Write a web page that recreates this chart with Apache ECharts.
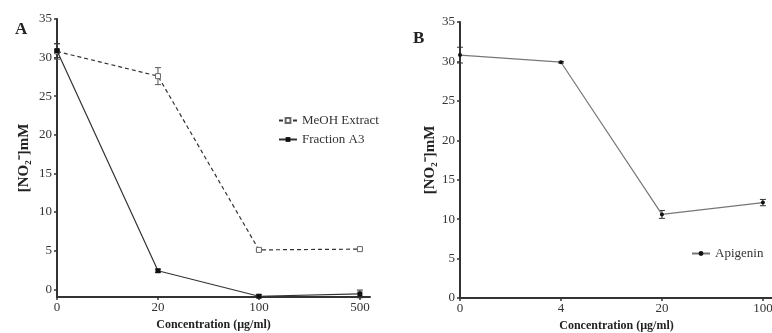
<!DOCTYPE html>
<html>
<head>
<meta charset="utf-8">
<script src="https://cdn.jsdelivr.net/npm/echarts@6/dist/echarts.min.js"></script>
<style>html,body{margin:0;padding:0;background:#fff}#c{width:772px;height:333px}</style>
</head>
<body>
<div id="c"></div>
<script>
const categoriesA = ['0', '20', '100', '500'];
const meohValues = [30.8, 27.6, 5.1, 5.2];
const meohErrors = [1.0, 1.1, 0.1, 0.1];
const a3Values = [30.9, 2.4, -0.9, -0.6];
const a3Errors = [0.9, 0.2, 0.2, 0.5];
const categoriesB = ['0', '4', '20', '100'];
const apigeninValues = [30.8, 29.9, 10.6, 12.1];
const apigeninErrors = [1.0, 0.1, 0.5, 0.4];
const yTicks = [0, 5, 10, 15, 20, 25, 30, 35];
const xTickIdx = [0, 1, 2, 3];

const serif = "'Liberation Serif','Times New Roman',serif";
const axisCol = '#333';

function errRender(color) {
  return function (params, api) {
    const x = api.value(0), y = api.value(1), e = api.value(2);
    const hi = api.coord([x, y + e]);
    const lo = api.coord([x, y - e]);
    const w = 3;
    const st = { stroke: color, lineWidth: 1 };
    return {
      type: 'group',
      children: [
        { type: 'line', shape: { x1: hi[0], y1: hi[1], x2: lo[0], y2: lo[1] }, style: st },
        { type: 'line', shape: { x1: hi[0] - w, y1: hi[1], x2: hi[0] + w, y2: hi[1] }, style: st },
        { type: 'line', shape: { x1: lo[0] - w, y1: lo[1], x2: lo[0] + w, y2: lo[1] }, style: st }
      ]
    };
  };
}

function xAxisFor(gridIndex, cats) {
  return {
    type: 'value', gridIndex: gridIndex, min: 0, max: 3.1,
    name: 'Concentration (µg/ml)', nameLocation: 'middle', nameGap: 22,
    nameTextStyle: { fontFamily: serif, fontWeight: 'bold', fontSize: 12, color: '#222' },
    axisLine: { show: true, onZero: false, lineStyle: { color: axisCol, width: 2 } },
    axisTick: { show: true, length: 3, customValues: xTickIdx, lineStyle: { color: axisCol, width: 1.5 } },
    axisLabel: { customValues: xTickIdx, formatter: v => cats[v], fontFamily: serif, fontSize: 13, color: '#333', margin: 4 },
    splitLine: { show: false }
  };
}
function yAxisFor(gridIndex, min, gap) {
  return {
    type: 'value', gridIndex: gridIndex, min: min, max: 35,
    name: '[NO₂⁻]mM', nameLocation: 'middle', nameGap: gap,
    nameTextStyle: { fontFamily: serif, fontWeight: 'bold', fontSize: 15, color: '#222' },
    axisLine: { show: true, onZero: false, lineStyle: { color: axisCol, width: 2 } },
    axisTick: { show: true, length: 3, customValues: yTicks, lineStyle: { color: axisCol, width: 1.5 } },
    axisLabel: { customValues: yTicks, fontFamily: serif, fontSize: 13, color: '#333', margin: 5 },
    splitLine: { show: false }
  };
}

const chart = echarts.init(document.getElementById('c'), null, { renderer: 'canvas' });
chart.setOption({
  animation: false,
  backgroundColor: '#fff',
  title: [
    { text: 'A', left: 10, top: 16, textStyle: { fontFamily: serif, fontWeight: 'bold', fontSize: 17, color: '#222' } },
    { text: 'B', left: 408, top: 25, textStyle: { fontFamily: serif, fontWeight: 'bold', fontSize: 17, color: '#222' } }
  ],
  grid: [
    { left: 57, top: 19, width: 313, bottom: 36, outerBoundsMode: 'none', containLabel: false },
    { left: 460, top: 22, width: 313, bottom: 35, outerBoundsMode: 'none', containLabel: false }
  ],
  xAxis: [xAxisFor(0, categoriesA), xAxisFor(1, categoriesB)],
  yAxis: [yAxisFor(0, -1, 25), yAxisFor(1, 0, 20)],
  legend: [
    {
      data: ['MeOH Extract', 'Fraction A3'], orient: 'vertical', left: 273, top: 109,
      itemWidth: 18, itemHeight: 6, itemGap: 6,
      textStyle: { fontFamily: serif, fontSize: 13, color: '#333' }
    },
    {
      data: ['Apigenin'], orient: 'vertical', left: 686, top: 242,
      itemWidth: 18, itemHeight: 6,
      textStyle: { fontFamily: serif, fontSize: 13, color: '#333' }
    }
  ],
  series: [
    {
      name: 'MeOH Extract', type: 'line', xAxisIndex: 0, yAxisIndex: 0,
      data: meohValues.map((v, i) => [i, v]),
      symbol: 'rect', symbolSize: 5,
      itemStyle: { color: '#fff', borderColor: '#666', borderWidth: 1 },
      lineStyle: { color: '#333', width: 1.2, type: [4, 3] },
      z: 3
    },
    {
      name: 'Fraction A3', type: 'line', xAxisIndex: 0, yAxisIndex: 0,
      data: a3Values.map((v, i) => [i, v]),
      symbol: 'rect', symbolSize: 5,
      itemStyle: { color: '#111' },
      lineStyle: { color: '#333', width: 1.2 },
      z: 4
    },
    {
      name: 'Apigenin', type: 'line', xAxisIndex: 1, yAxisIndex: 1,
      data: apigeninValues.map((v, i) => [i, v]),
      symbol: 'circle', symbolSize: 4,
      itemStyle: { color: '#111' },
      lineStyle: { color: '#777', width: 1.2 },
      z: 3
    },
    {
      name: 'meohErr', type: 'custom', xAxisIndex: 0, yAxisIndex: 0,
      renderItem: errRender('#555'),
      data: meohValues.map((v, i) => [i, v, meohErrors[i]]), z: 2
    },
    {
      name: 'a3Err', type: 'custom', xAxisIndex: 0, yAxisIndex: 0,
      renderItem: errRender('#333'),
      data: a3Values.map((v, i) => [i, v, a3Errors[i]]), z: 2
    },
    {
      name: 'apiErr', type: 'custom', xAxisIndex: 1, yAxisIndex: 1,
      renderItem: errRender('#333'),
      data: apigeninValues.map((v, i) => [i, v, apigeninErrors[i]]), z: 2
    }
  ]
});
</script>
</body>
</html>
